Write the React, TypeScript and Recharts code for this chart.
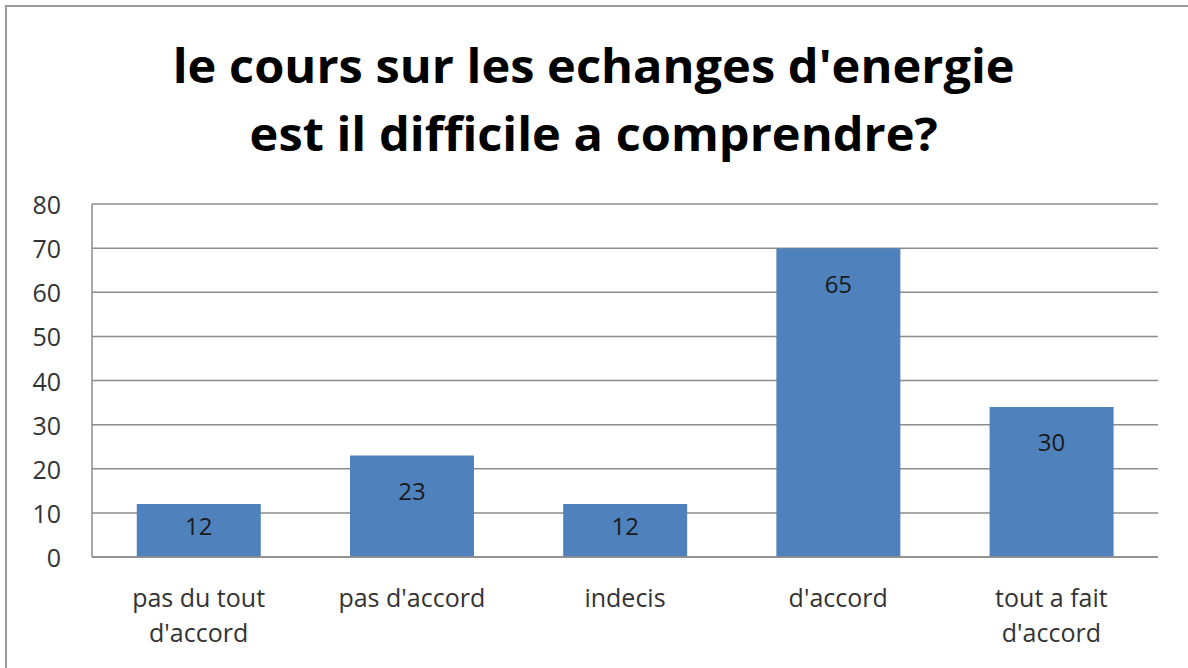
import React from 'react';
import { BarChart, Bar, XAxis, YAxis, CartesianGrid, LabelList } from 'recharts';

// catégories (axe X), une ligne par entrée
const categories = [
  ['pas du tout', "d'accord"],
  ["pas d'accord"],
  ['indecis'],
  ["d'accord"],
  ['tout a fait', "d'accord"],
];
const barValues = [12, 23, 12, 70, 34];
// étiquettes affichées dans les barres
const barLabels = [12, 23, 12, 65, 30];
const yTicks = [0, 10, 20, 30, 40, 50, 60, 70, 80];

const FONT = '"Open Sans", "DejaVu Sans", sans-serif';

const data = categories.map((c, i) => ({
  name: c.join(' '),
  lines: c,
  value: barValues[i],
  label: barLabels[i],
}));

const CategoryTick = ({ x, y, payload, index }: any) => {
  const lines = data[index]?.lines ?? [payload.value];
  return (
    <g transform={`translate(${x},${y})`}>
      {lines.map((l: string, i: number) => (
        <text
          key={i}
          x={0}
          y={32 + i * 35}
          textAnchor="middle"
          dominantBaseline="central"
          fontFamily={FONT}
          fontSize={25}
          fill="#333"
        >
          {l}
        </text>
      ))}
    </g>
  );
};

const ValueTick = ({ y, payload }: any) => (
  <text
    x={61}
    y={y}
    textAnchor="end"
    dominantBaseline="central"
    fontFamily={FONT}
    fontSize={25}
    fill="#333"
  >
    {payload.value}
  </text>
);

const InsideLabel = (props: any) => {
  const { x, y, width, height, index } = props;
  const cy = Math.min(y + 35, y + height / 2 - 5);
  return (
    <text
      x={x + width / 2}
      y={cy}
      textAnchor="middle"
      dominantBaseline="central"
      fontFamily={FONT}
      fontSize={24}
      fill="#1a1a1a"
    >
      {barLabels[index]}
    </text>
  );
};

const App = () => {
  return (
    <div style={{ position: 'absolute', left: 0, top: 0, width: 1188, height: 668, overflow: 'hidden', background: '#fff' }}>
      {/* cadre du graphique : seuls les bords haut et gauche sont visibles */}
      <div style={{ position: 'absolute', left: 5, top: 5, width: 1183, height: 2, background: '#9a9a9a' }} />
      <div style={{ position: 'absolute', left: 5, top: 5, width: 2, height: 663, background: '#9a9a9a' }} />
      <div
        style={{
          position: 'absolute',
          left: 0,
          top: 31,
          width: 1188,
          textAlign: 'center',
          fontFamily: FONT,
          fontWeight: 700,
          fontSize: 46,
          lineHeight: '68px',
          color: '#000',
          transform: 'scaleX(1.06)',
          transformOrigin: '599px 0',
        }}
      >
        le cours sur les echanges d'energie
        <br />
        est il difficile a comprendre?
      </div>
      <div style={{ position: 'absolute', left: 0, top: 0 }}>
        <BarChart
          width={1188}
          height={668}
          data={data}
          margin={{ top: 204, right: 30, left: 0, bottom: 0 }}
          barCategoryGap="21%"
        >
          <CartesianGrid vertical={false} stroke="#8c8c8c" strokeWidth={1.5} />
          <XAxis
            dataKey="name"
            axisLine={{ stroke: '#8c8c8c', strokeWidth: 1.5 }}
            tickLine={false}
            tick={<CategoryTick />}
            interval={0}
            height={111}
          />
          <YAxis
            width={92}
            domain={[0, 80]}
            ticks={yTicks}
            interval={0}
            axisLine={{ stroke: '#8c8c8c', strokeWidth: 1.5 }}
            tickLine={false}
            tick={<ValueTick />}
          />
          <Bar dataKey="value" fill="#4F81BD" isAnimationActive={false}>
            <LabelList dataKey="label" content={<InsideLabel />} />
          </Bar>
        </BarChart>
      </div>
    </div>
  );
};

export default App;
